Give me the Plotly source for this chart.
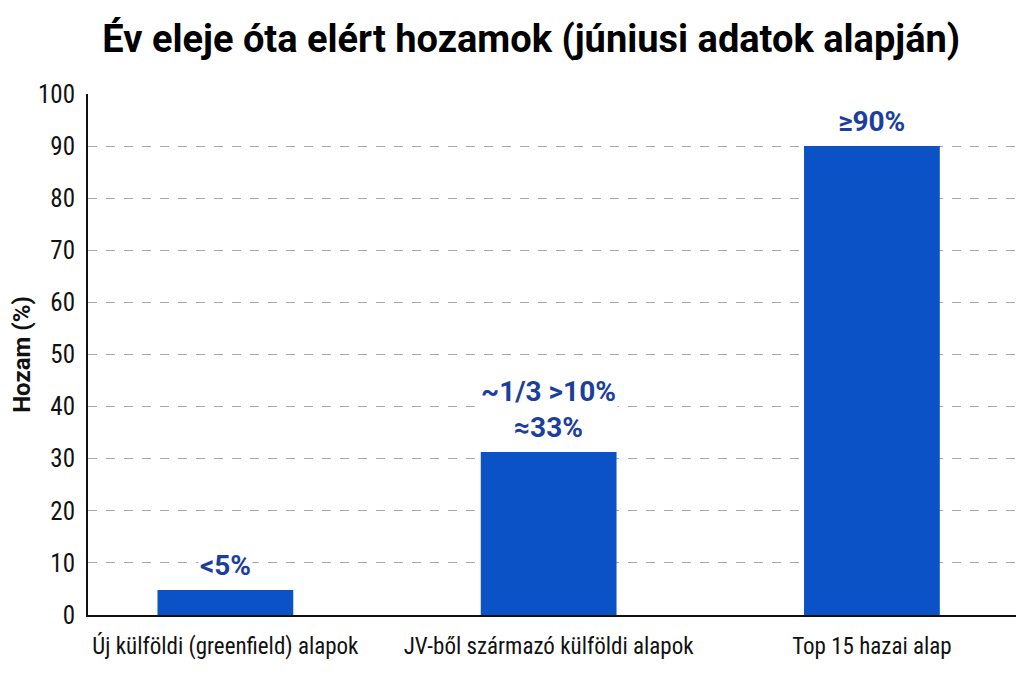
import plotly.graph_objects as go

categories = ["Új külföldi (greenfield) alapok", "JV-ből származó külföldi alapok", "Top 15 hazai alap"]
values = [4.8, 31.3, 90]
labels = ["<5%", "~1/3 >10%<br>≈33%", "≥90%"]
y_ticks = list(range(0, 101, 10))

narrow = "Liberation Sans Narrow, Arial Narrow, Roboto Condensed, Roboto, sans-serif"
bold_font = "Roboto, Liberation Sans, sans-serif"

fig = go.Figure()
fig.add_trace(go.Bar(
    x=categories,
    y=values,
    width=0.42,
    marker=dict(color="#0b52c6", line=dict(width=0)),
    hoverinfo="x+y",
))

for cat, val, lab in zip(categories, values, labels):
    fig.add_annotation(
        x=cat, y=val, text=lab,
        showarrow=False, yanchor="bottom", yshift=6,
        font=dict(family=bold_font, size=28, color="#1c3f9e", weight="bold"),
        bgcolor="white", borderpad=1,
    )

# page body has an 8px default margin, so margins are offset by that
fig.update_layout(
    width=1024, height=675,
    margin=dict(l=80, r=13, t=86, b=68),
    paper_bgcolor="white",
    plot_bgcolor="white",
    showlegend=False,
    title=dict(
        text="<b>Év eleje óta elért hozamok (júniusi adatok alapján)</b>",
        x=0.511, xanchor="center", y=0.955, yanchor="middle",
        font=dict(family=bold_font, size=38, color="#000000"),
    ),
    xaxis=dict(
        range=[-0.425, 2.455],
        showline=True, linecolor="#111111", linewidth=2,
        ticks="", showgrid=False, automargin=False, ticklabelstandoff=9,
        tickfont=dict(family=narrow, size=23, color="#111111"),
    ),
    yaxis=dict(
        range=[0, 100], tickvals=y_ticks,
        showline=True, linecolor="#111111", linewidth=2,
        showgrid=True, gridcolor="#a8a8a8", griddash="dash", gridwidth=1,
        zeroline=False, ticks="", automargin=False, ticklabelstandoff=6,
        tickfont=dict(family=narrow, size=25, color="#111111"),
        title=dict(text="<b>Hozam (%)</b>", standoff=12,
                   font=dict(family=bold_font, size=24, color="#111111")),
    ),
)

fig.write_html("out.html")
